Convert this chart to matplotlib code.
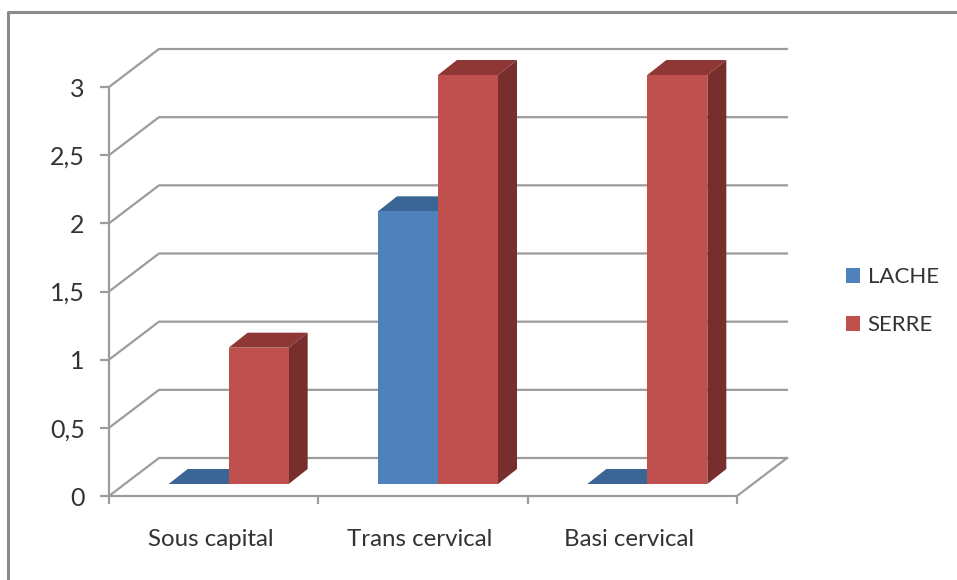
import matplotlib

matplotlib.use("Agg")
import matplotlib.pyplot as plt
from matplotlib.patches import Patch, Polygon
from matplotlib.ticker import FixedLocator, NullFormatter
from matplotlib.transforms import ScaledTranslation

categories = ["Sous capital", "Trans cervical", "Basi cervical"]
lache = [0, 2, 0]
serre = [1, 3, 3]
y_ticks = [0, 0.5, 1, 1.5, 2, 2.5, 3]
y_tick_labels = ["0", "0,5", "1", "1,5", "2", "2,5", "3"]

COLORS = {
    "grid": "#9C9C9C",
    "text": "#333333",
    "blue": "#4F81BD",
    "blue_top": "#3A6595",
    "blue_side": "#2F5078",
    "red": "#C0504D",
    "red_top": "#8E3735",
    "red_side": "#772E2C",
}

W, H = 957, 580
DPI = 100

# axes frame in pixels: front plane of the fake 3D box
LEFT, RIGHT, TOP, BOTTOM = 109, 737, 87, 496
PX_X = (RIGHT - LEFT) / len(categories)
PX_Y = (BOTTOM - TOP) / y_ticks[-1]

# oblique offsets, in data units
BACK_DX, BACK_DY = 50 / PX_X, 38 / PX_Y
FLOOR_DX, FLOOR_DY = 15 / PX_X, 12 / PX_Y
BAR_DX, BAR_DY = 19 / PX_X, 15 / PX_Y
BAR_W = 60 / PX_X

plt.rcParams["font.family"] = ["Lato", "DejaVu Sans"]

fig = plt.figure(figsize=(W / DPI, H / DPI), dpi=DPI, facecolor="white")
ax = fig.add_axes([LEFT / W, 1 - BOTTOM / H, (RIGHT - LEFT) / W, (BOTTOM - TOP) / H])
ax.set_xlim(0, len(categories))
ax.set_ylim(0, y_ticks[-1])
ax.patch.set_visible(False)

# outer chart frame, runs off the right and bottom edges
fig.add_artist(plt.Line2D([960 / W, 8 / W, 8 / W], [1 - 12 / H, 1 - 12 / H, -0.01],
                          color="#8A8A8A", lw=2.2))

# walls and floor
for val in y_ticks:
    ax.plot([0, BACK_DX, len(categories) + BACK_DX], [val, val + BACK_DY, val + BACK_DY],
            color=COLORS["grid"], lw=1.6, clip_on=False, zorder=1, solid_joinstyle="miter")
ax.plot([len(categories), len(categories) + BACK_DX], [0, BACK_DY],
        color=COLORS["grid"], lw=1.6, clip_on=False, zorder=1)


def draw_bar(x, val, front, top, side, zorder):
    left = x + FLOOR_DX
    right = left + BAR_W
    base = FLOOR_DY
    ax.add_patch(Polygon([(left, base + val), (right, base + val),
                          (right + BAR_DX, base + val + BAR_DY), (left + BAR_DX, base + val + BAR_DY)],
                         closed=True, fc=top, ec="none", clip_on=False, zorder=zorder))
    ax.add_patch(Polygon([(right, base), (right + BAR_DX, base + BAR_DY),
                          (right + BAR_DX, base + val + BAR_DY), (right, base + val)],
                         closed=True, fc=side, ec="none", clip_on=False, zorder=zorder))
    ax.bar(left, val, width=BAR_W, bottom=base, align="edge", color=front, clip_on=False, zorder=zorder)


for i, (a, b) in enumerate(zip(lache, serre)):
    center = i + 0.5
    draw_bar(center - BAR_W, a, COLORS["blue"], COLORS["blue_top"], COLORS["blue_side"], 3)
    draw_bar(center, b, COLORS["red"], COLORS["red_top"], COLORS["red_side"], 4)

for name in ["top", "right"]:
    ax.spines[name].set_visible(False)
for name in ["left", "bottom"]:
    ax.spines[name].set_color(COLORS["grid"])
    ax.spines[name].set_linewidth(1.6)
    ax.spines[name].set_zorder(2)

ax.set_yticks(y_ticks)
ax.set_yticklabels(y_tick_labels)
ax.tick_params(axis="y", length=6.5, width=1.6, color=COLORS["grid"], labelcolor=COLORS["text"],
               labelsize=18, pad=11)

# ticks bound the categories, labels sit between them
ax.xaxis.set_major_locator(FixedLocator(range(len(categories) + 1)))
ax.xaxis.set_major_formatter(NullFormatter())
ax.set_xticks([i + 0.5 for i in range(len(categories))], minor=True)
ax.set_xticklabels(categories, minor=True)
ax.tick_params(axis="x", which="major", length=6, width=1.6, color=COLORS["grid"])
ax.tick_params(axis="x", which="minor", length=0, labelcolor=COLORS["text"], labelsize=17.3, pad=24)
for label in ax.get_xticklabels(minor=True):
    label.set_transform(label.get_transform() + ScaledTranslation(-3 / DPI, 0, fig.dpi_scale_trans))

handles = [Patch(fc=COLORS["blue"], label="LACHE"), Patch(fc=COLORS["red"], label="SERRE")]
fig.legend(handles=handles, loc="center left", bbox_to_anchor=(826 / W, 1 - 301 / H), frameon=False,
           fontsize=16, handlelength=0.65, handleheight=0.65, handletextpad=0.32,
           labelspacing=1.27, labelcolor=COLORS["text"])

fig.savefig("out.png", dpi=DPI, facecolor="white")
plt.close(fig)
